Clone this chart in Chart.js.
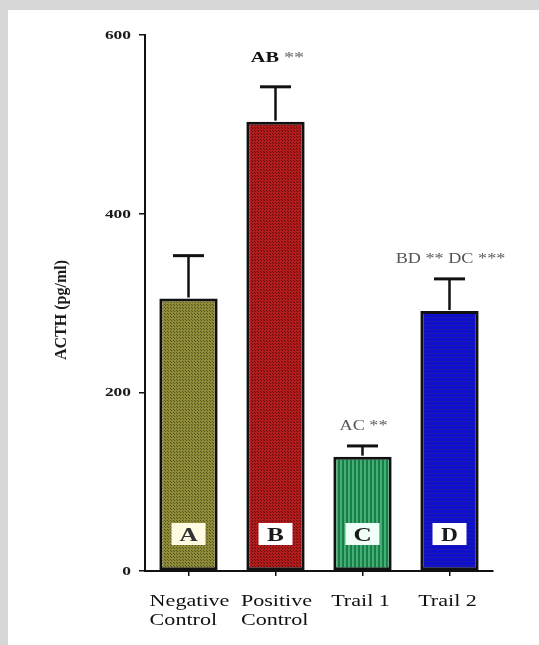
<!DOCTYPE html>
<html>
<head>
<meta charset="utf-8">
<script src="https://cdn.jsdelivr.net/npm/chart.js@4.4.1/dist/chart.umd.min.js"></script>
<style>
  html, body { margin: 0; padding: 0; background: #d7d7d7; width: 539px; height: 645px; overflow: hidden; }
  #panel { position: absolute; left: 8px; top: 10px; width: 531px; height: 635px; background: #ffffff; }
  canvas { display: block; }
</style>
</head>
<body>
<div id="panel"><canvas id="c" width="531" height="635"></canvas></div>
<script>
// ---- data ----
const categories = [['Negative', 'Control'], ['Positive', 'Control'], ['Trail 1'], ['Trail 2']];
const means = [305, 503, 128, 291];
const sem = [48, 39, 12, 36];
const groupLetters = ['A', 'B', 'C', 'D'];
const sigLabels = ['', 'AB **', 'AC **', 'BD ** DC ***'];
const yTicks = [0, 200, 400, 600];
const yTitle = 'ACTH (pg/ml)';

// ---- styles ----
const SERIF = '"Liberation Serif", "Times New Roman", serif';
function makePattern(w, h, draw) {
  const c = document.createElement('canvas');
  c.width = w; c.height = h;
  const g = c.getContext('2d');
  draw(g);
  return g.createPattern(c, 'repeat');
}
const fills = [
  makePattern(3, 3, g => { g.fillStyle = 'rgb(142,140,56)'; g.fillRect(0,0,3,3); g.fillStyle = 'rgb(86,84,28)'; g.fillRect(1,1,1,1); g.fillRect(0,0,1,1); }),
  makePattern(3, 3, g => { g.fillStyle = 'rgb(178,28,28)'; g.fillRect(0,0,3,3); g.fillStyle = 'rgb(100,10,10)'; g.fillRect(1,1,1,1); g.fillRect(0,0,1,1); }),
  makePattern(4, 1, g => { g.fillStyle = 'rgb(66,176,116)'; g.fillRect(0,0,2,1); g.fillStyle = 'rgb(26,124,72)'; g.fillRect(2,0,2,1); }),
  makePattern(1, 4, g => { g.fillStyle = 'rgb(14,14,204)'; g.fillRect(0,0,1,4); g.fillStyle = 'rgb(28,28,170)'; g.fillRect(0,3,1,1); })
];
const boxFills = ['#fffbe2', '#ffffff', '#effff8', '#ffffff'];

function txt(ctx, s, x, y, font, color, align, sx) {
  ctx.save();
  ctx.font = font;
  ctx.fillStyle = color;
  ctx.textBaseline = 'alphabetic';
  ctx.textAlign = 'left';
  const w = ctx.measureText(s).width * sx;
  const left = align === 'center' ? x - w / 2 : (align === 'right' ? x - w : x);
  ctx.translate(left, y);
  ctx.scale(sx, 1);
  ctx.fillText(s, 0, 0);
  ctx.restore();
  return w;
}

const decor = {
  id: 'decor',
  afterDatasetsDraw(chart) {
    const ctx = chart.ctx;
    const xs = chart.scales.x, ys = chart.scales.y;
    // error bars
    ctx.save();
    ctx.strokeStyle = '#111';
    ctx.lineCap = 'butt';
    means.forEach((m, i) => {
      const x = xs.getPixelForValue(i);
      const yTop = ys.getPixelForValue(m);
      const yCap = ys.getPixelForValue(m + sem[i]);
      ctx.lineWidth = 2.5;
      ctx.beginPath(); ctx.moveTo(x, yTop - 1); ctx.lineTo(x, yCap); ctx.stroke();
      ctx.lineWidth = 3;
      ctx.beginPath(); ctx.moveTo(x - 15.5, yCap); ctx.lineTo(x + 15.5, yCap); ctx.stroke();
    });
    ctx.restore();
    // letter boxes inside bars
    groupLetters.forEach((L, i) => {
      const x = xs.getPixelForValue(i);
      const yb = chart.chartArea.bottom - 26;
      ctx.fillStyle = boxFills[i];
      ctx.fillRect(x - 17, yb - 22, 34, 22);
      txt(ctx, L, x, yb - 4, 'bold 18px ' + SERIF, i === 0 ? '#333' : '#1a1a1a', 'center', i === 3 ? 1.3 : 1.4);
    });
    // significance labels
    sigLabels.forEach((s, i) => {
      if (!s) return;
      const x = xs.getPixelForValue(i);
      const yCap = ys.getPixelForValue(means[i] + sem[i]);
      if (i === 1) {
        const parts = s.split(' ');
        ctx.save(); ctx.font = 'bold 15px ' + SERIF;
        const sx = 1.35;
        const w1 = ctx.measureText(parts[0]).width * sx;
        const w2 = ctx.measureText(' ' + parts[1]).width * sx;
        ctx.restore();
        const left = x - (w1 + w2) / 2 + 2;
        txt(ctx, parts[0], left, yCap - 25, 'bold 15px ' + SERIF, '#111', 'left', sx);
        txt(ctx, ' ' + parts[1], left + w1, yCap - 25, 'bold 15px ' + SERIF, '#8a8a8a', 'left', sx);
      } else {
        txt(ctx, s, x + 1, yCap - 16, '14px ' + SERIF, '#555', 'center', 1.3);
      }
    });
  },
  afterDraw(chart) {
    const ctx = chart.ctx;
    const xs = chart.scales.x, ys = chart.scales.y;
    // y tick labels
    yTicks.forEach(v => {
      const y = ys.getPixelForValue(v);
      txt(ctx, String(v), chart.chartArea.left - 14, y + 4, 'bold 12px ' + SERIF, '#1a1a1a', 'right', 1.45);
    });
    // y title
    ctx.save();
    ctx.translate(54, (chart.chartArea.top + chart.chartArea.bottom) / 2 + 7);
    ctx.rotate(-Math.PI / 2);
    ctx.font = 'bold 16px ' + SERIF;
    ctx.fillStyle = '#1a1a1a';
    ctx.textAlign = 'center';
    ctx.textBaseline = 'middle';
    ctx.fillText(yTitle, 0, 0);
    ctx.restore();
    // x category labels (left aligned lines)
    categories.forEach((lines, i) => {
      const x = xs.getPixelForValue(i);
      ctx.save(); ctx.font = '17px ' + SERIF;
      const sx = 1.3;
      const w0 = ctx.measureText(lines[0]).width * sx;
      ctx.restore();
      const left = x - w0 / 2 + (i < 2 ? 1 : -2);
      lines.forEach((ln, k) => {
        txt(ctx, ln, left, chart.chartArea.bottom + 35 + k * 19, '17px ' + SERIF, '#111', 'left', sx);
      });
    });
  }
};

new Chart(document.getElementById('c'), {
  type: 'bar',
  data: {
    labels: categories.map(c => c.join(' ')),
    datasets: [{
      data: means,
      backgroundColor: fills,
      borderColor: '#111',
      borderWidth: 3,
      borderSkipped: false,
      categoryPercentage: 1.0,
      barPercentage: 0.67
    }]
  },
  options: {
    responsive: false,
    devicePixelRatio: 1,
    animation: false,
    layout: { padding: { top: 25, right: 46, left: 0, bottom: 0 } },
    plugins: { legend: { display: false }, tooltip: { enabled: false }, title: { display: false } },
    scales: {
      x: {
        ticks: { display: false },
        grid: { display: true, drawOnChartArea: false, drawTicks: true, tickLength: 5, color: '#111', lineWidth: 1.5, offset: false },
        border: { display: true, color: '#111', width: 2 },
        afterFit(s) { s.height = 74; }
      },
      y: {
        min: 0, max: 600,
        ticks: { display: false, stepSize: 200 },
        grid: { display: true, drawOnChartArea: false, drawTicks: true, tickLength: 6, color: '#111', lineWidth: 1.5 },
        border: { display: true, color: '#111', width: 2 },
        afterFit(s) { s.width = 137; }
      }
    }
  },
  plugins: [decor]
});
</script>
</body>
</html>
